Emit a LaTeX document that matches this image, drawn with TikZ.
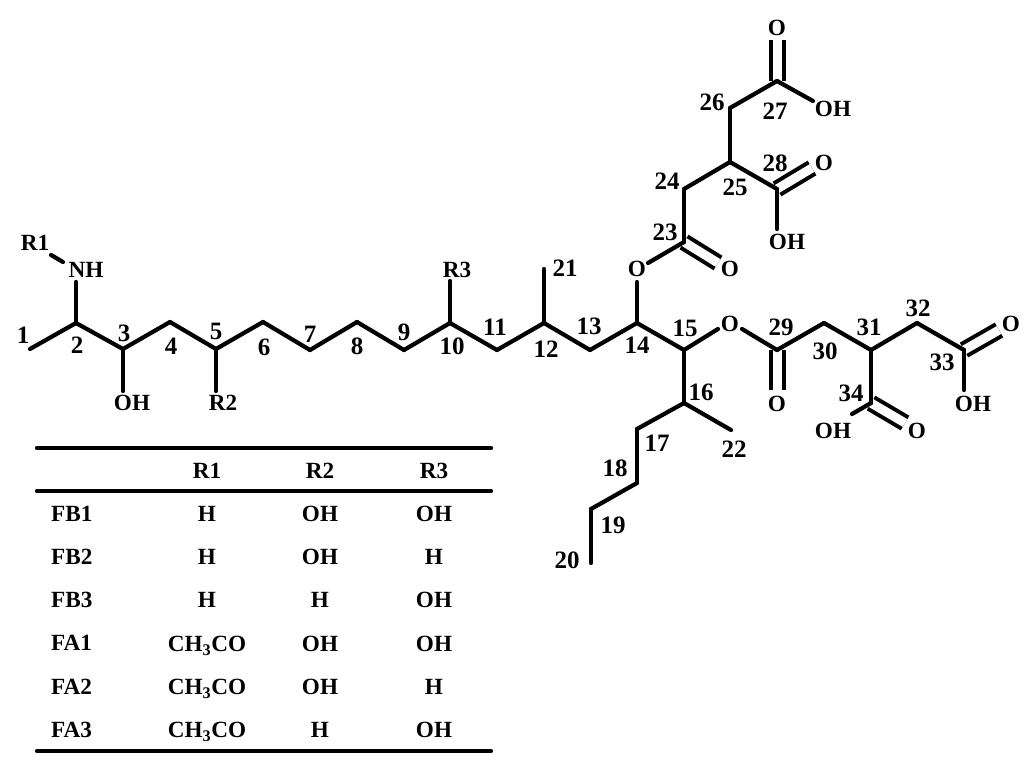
\documentclass[tikz,border=0pt]{standalone}
\usepackage{fontspec}
\setmainfont{Liberation Serif}
\usepackage{tkz-graph}
\tikzset{lab/.style={font=\bfseries\fontsize{23.2}{24}\selectfont,inner sep=0pt,text height=15pt,text depth=0pt},
  num/.style={font=\bfseries\fontsize{25}{26}\selectfont,inner sep=0pt,text height=17pt,text depth=0pt},
  dbl/.style={double,double distance=9pt,line width=4pt}}
\begin{document}
\begin{tikzpicture}[x=1pt,y=-1pt]
\useasboundingbox (0,0) rectangle (1024,763);
\SetVertexNoLabel
\tikzset{VertexStyle/.style={shape=coordinate},EdgeStyle/.style={dbl}}
\Vertex[x=30,y=349]{1} \Vertex[x=76,y=323]{2} \Vertex[x=123,y=349]{3} \Vertex[x=170,y=322]{4}
\Vertex[x=216,y=349]{5} \Vertex[x=263,y=322]{6} \Vertex[x=310,y=350]{7} \Vertex[x=357,y=322]{8}
\Vertex[x=404,y=350]{9} \Vertex[x=450,y=323]{10} \Vertex[x=497,y=350]{11} \Vertex[x=544,y=323]{12}
\Vertex[x=590,y=350]{13} \Vertex[x=637,y=323]{14} \Vertex[x=684,y=350]{15} \Vertex[x=684,y=403]{16}
\Vertex[x=637,y=429]{17} \Vertex[x=637,y=483]{18} \Vertex[x=591,y=509]{19} \Vertex[x=591,y=563]{20}
\Vertex[x=544,y=269]{21} \Vertex[x=731,y=430]{22} \Vertex[x=684,y=242]{23} \Vertex[x=684,y=189]{24}
\Vertex[x=730,y=162]{25} \Vertex[x=730,y=108]{26} \Vertex[x=777,y=81]{27} \Vertex[x=777,y=189]{28}
\Vertex[x=777,y=350]{29} \Vertex[x=824,y=323]{30} \Vertex[x=871,y=350]{31} \Vertex[x=917,y=323]{32}
\Vertex[x=964,y=350]{33} \Vertex[x=871,y=403]{34}
\Vertex[x=51,y=255]{r1} \Vertex[x=63,y=262]{nh} \Vertex[x=76,y=282]{nh'} \Vertex[x=123,y=391]{oh3}
\Vertex[x=216,y=391]{r2} \Vertex[x=450,y=281]{r3} \Vertex[x=637,y=282]{o14} \Vertex[x=648,y=263]{o14'}
\Vertex[x=718,y=329]{o15} \Vertex[x=742,y=329]{o15'} \Vertex[x=777,y=40]{o27} \Vertex[x=813,y=101]{oh27}
\Vertex[x=812,y=168]{o28} \Vertex[x=777,y=229]{oh28} \Vertex[x=718,y=263]{o23} \Vertex[x=777,y=390]{o29}
\Vertex[x=999,y=330]{o33} \Vertex[x=964,y=390]{oh33} \Vertex[x=905,y=423]{o34} \Vertex[x=852,y=414]{oh34}
\Vertex[x=37,y=448]{tl} \Vertex[x=491,y=448]{tr} \Vertex[x=37,y=491]{ml} \Vertex[x=491,y=491]{mr}
\Vertex[x=37,y=751]{bl} \Vertex[x=491,y=751]{br}
\Edge(27)(o27) \Edge(28)(o28) \Edge(23)(o23) \Edge(29)(o29) \Edge(33)(o33) \Edge(34)(o34)
\tikzset{EdgeStyle/.style={line width=4.2pt,line cap=round,line join=round}}
\Edges(1,2,3,4,5,6,7,8,9,10,11,12,13,14,15,16,17,18,19,20)
\Edges(o14',23,24,25,26,27,oh27) \Edges(o15',29,30,31,32,33,oh33) \Edges(25,28,oh28) \Edges(31,34,oh34)
\Edge(r1)(nh) \Edge(2)(nh') \Edge(3)(oh3) \Edge(5)(r2) \Edge(10)(r3) \Edge(12)(21) \Edge(14)(o14)
\Edge(15)(o15) \Edge(16)(22)
\Edge(tl)(tr) \Edge(ml)(mr) \Edge(bl)(br)
\foreach \a/\x/\y in {1/23/335,2/77/345,3/124/333,4/171/346,5/216/331,6/264/347,7/310/334,8/357/346,
  9/404/332,10/452/346,11/495/327,12/546/349,13/589/326,14/637/345,15/685/328,16/701/392,17/657/443,
  18/615/468,19/613/525,20/567/560,21/565/268,22/734/449,23/665/232,24/667/181,25/735/187,26/712/102,
  27/775/111,28/775/163,29/781/327,30/825/351,31/869/327,32/918/308,33/942/362,34/851/393}
  \node[num] (n\a) at (\x,\y) {\a};
\foreach \a/\t/\x/\y in {r1/R1/35/243,nh/NH/86/270,oh3/OH/132/403,r2/R2/223/403,r3/R3/457/270,
  o14/O/637/269,o15/O/730/324,o27/O/777/28,oh27/OH/833/109,o28/O/824/163,oh28/OH/787/242,o23/O/730/269,
  o29/O/777/404,o33/O/1011/324,oh33/OH/973/404,o34/O/917/431,oh34/OH/833/431}
  \node[lab] (t\a) at (\x,\y) {\t};
\foreach \r/\y/\p/\q/\s in {1/514/H/OH/OH,2/557/H/OH/H,3/600/H/H/OH,4/644/CH\textsubscript{3}CO/OH/OH,
  5/687/CH\textsubscript{3}CO/OH/H,6/730/CH\textsubscript{3}CO/H/OH}{
  \node[lab] (a\r) at (207,\y) {\p};
  \node[lab] (b\r) at (320,\y) {\q};
  \node[lab] (c\r) at (434,\y) {\s};}
\foreach \r/\t in {1/FB1,2/FB2,3/FB3,4/FA1,5/FA2,6/FA3}
  \node[lab,anchor=west] (f\r) at (51,471+43.1*\r) {\t};
\node[lab] (h1) at (207,471) {R1}; \node[lab] (h2) at (320,471) {R2}; \node[lab] (h3) at (434,471) {R3};
\end{tikzpicture}
\end{document}
